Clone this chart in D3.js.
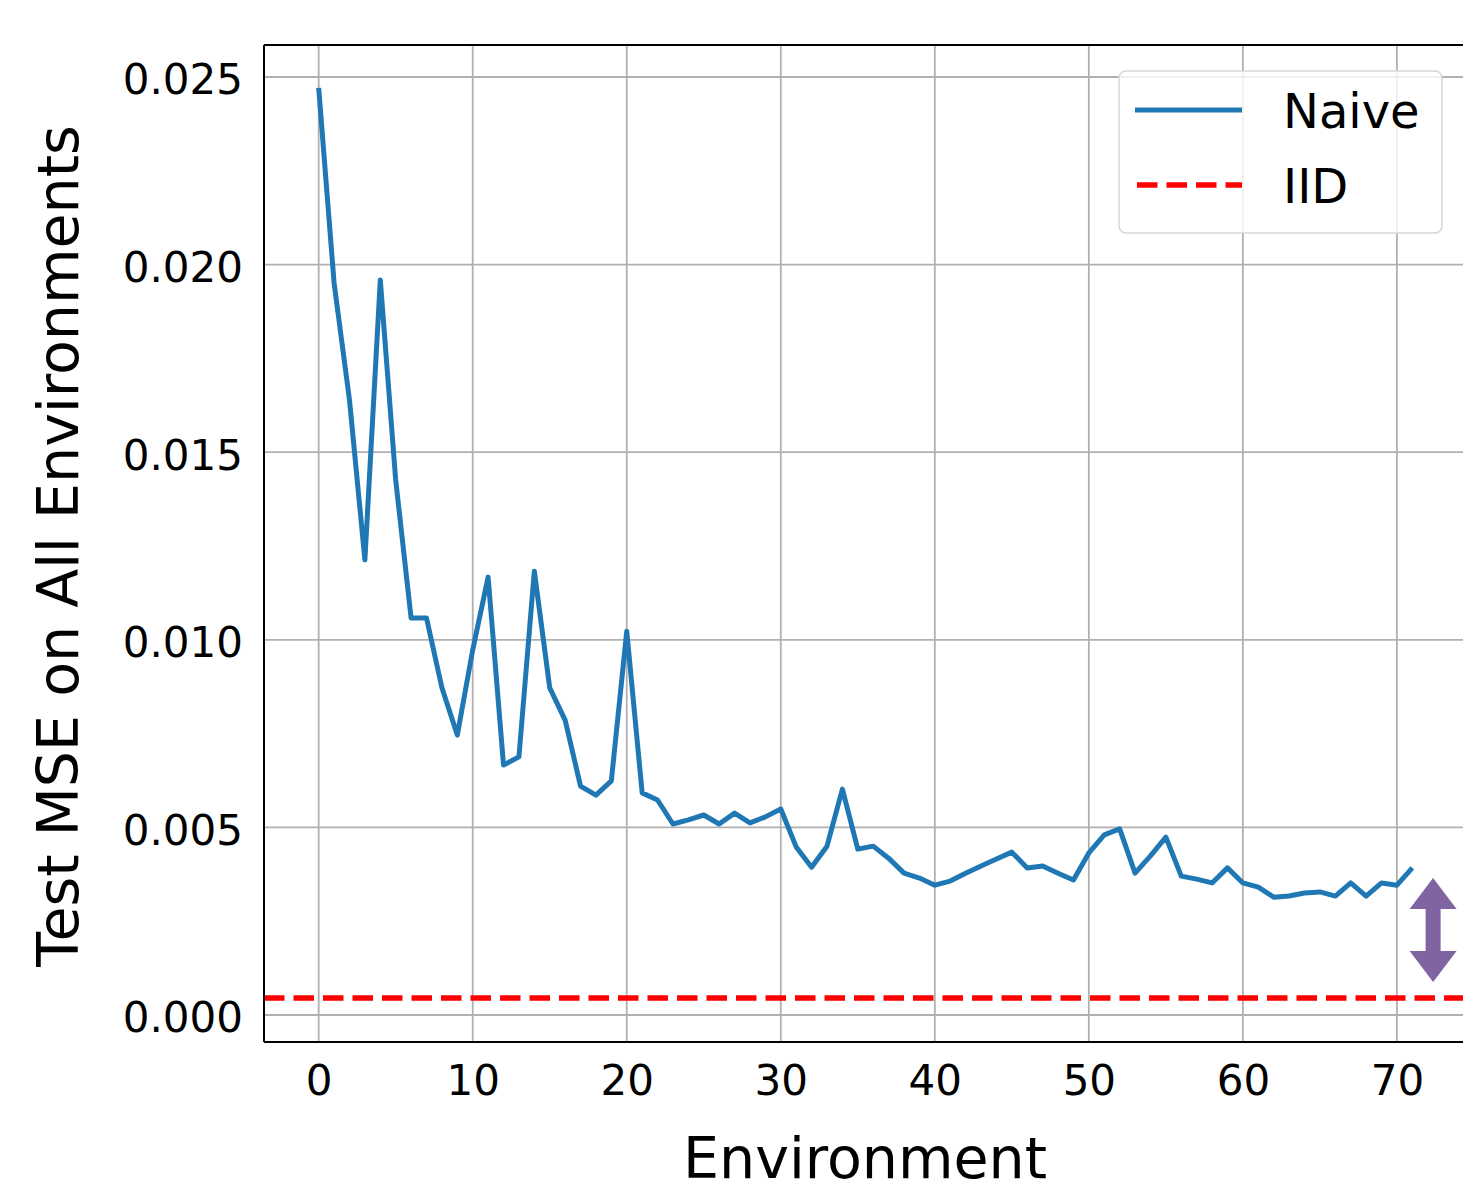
<!DOCTYPE html>
<html>
  <head>
    <meta charset="utf-8">
    <script src="https://d3js.org/d3.v7.min.js"></script>
    <title>Test MSE on All Environments</title>
    <style>
      body {
        margin: 0px;
        background: #fff;
      }
      text {
        font-family: 'DejaVu Sans', sans-serif;
        fill: #000;
      }
      .tick text {
        font-size: 42px;
      }
      .axis-label {
        font-size: 57px;
      }
      .legend text {
        font-size: 48px;
      }
    </style>
  </head>
  <body>
    <svg width="1463" height="1188"></svg>
    <script>

      const environments = d3.range(72);
      const naiveMSE = [
        0.02471, 0.01951, 0.01639, 0.01213, 0.01959, 0.01426, 0.01058, 0.01058,
        0.00872, 0.00746, 0.00973, 0.01167, 0.00666, 0.00688, 0.01183, 0.00872,
        0.00786, 0.00610, 0.00586, 0.00624, 0.01023, 0.00592, 0.00573, 0.00509,
        0.00520, 0.00533, 0.00509, 0.00538, 0.00512, 0.00528, 0.00549, 0.00448,
        0.00394, 0.00450, 0.00602, 0.00442, 0.00450, 0.00418, 0.00378, 0.00365,
        0.00346, 0.00357, 0.00378, 0.00397, 0.00416, 0.00434, 0.00392, 0.00397,
        0.00378, 0.00360, 0.00432, 0.00480, 0.00496, 0.00378, 0.00424, 0.00474,
        0.00370, 0.00362, 0.00352, 0.00392, 0.00352, 0.00341, 0.00314, 0.00317,
        0.00325, 0.00328, 0.00317, 0.00352, 0.00317, 0.00352, 0.00346, 0.00392
      ];
      const iidMSE = 0.00045;
      const xTicks = [0, 10, 20, 30, 40, 50, 60, 70];
      const yTicks = [0, 0.005, 0.01, 0.015, 0.02, 0.025];
      const seriesNames = ['Naive', 'IID'];
      // gap arrow annotation (data coords)
      const gapArrow = { x: 72.35, top: 0.00365, bottom: 0.00088 };

      const margin = { left: 264, top: 45, right: -4, bottom: 146 };
      const svg = d3.select('svg');
      const width = +svg.attr('width');
      const height = +svg.attr('height');
      const innerWidth = width - margin.left - margin.right;
      const innerHeight = height - margin.top - margin.bottom;

      const xScale = d3.scaleLinear()
        .domain([-3.55, 74.55])
        .range([0, innerWidth]);
      const yScale = d3.scaleLinear()
        .domain([-0.00072, 0.025853])
        .range([innerHeight, 0]);

      const g = svg.append('g')
          .attr('transform', `translate(${margin.left},${margin.top})`);

      // grid
      g.append('g').selectAll('line').data(xTicks)
        .enter().append('line')
          .attr('x1', d => xScale(d)).attr('x2', d => xScale(d))
          .attr('y1', 0).attr('y2', innerHeight)
          .attr('stroke', '#b0b0b0').attr('stroke-width', 1.8);
      g.append('g').selectAll('line').data(yTicks)
        .enter().append('line')
          .attr('x1', 0).attr('x2', innerWidth)
          .attr('y1', d => yScale(d)).attr('y2', d => yScale(d))
          .attr('stroke', '#b0b0b0').attr('stroke-width', 1.8);

      // axes
      const xAxisG = g.append('g')
          .attr('transform', `translate(0,${innerHeight})`)
          .call(d3.axisBottom(xScale).tickValues(xTicks).tickSize(0).tickPadding(23)
            .tickFormat(d3.format('d')));
      const yAxisG = g.append('g')
          .call(d3.axisLeft(yScale).tickValues(yTicks).tickSize(0).tickPadding(21)
            .tickFormat(d3.format('.3f')));
      [xAxisG, yAxisG].forEach(a => {
        a.attr('font-size', 42).attr('font-family', "'DejaVu Sans', sans-serif");
        a.select('.domain').remove();
      });
      xAxisG.selectAll('.tick text').attr('dy', '0.71em');
      yAxisG.selectAll('.tick text').attr('dy', '0.4em');

      // series
      const line = d3.line()
        .x((d, i) => xScale(environments[i]))
        .y(d => yScale(d));

      g.append('line')
          .attr('x1', 0).attr('x2', innerWidth)
          .attr('y1', yScale(iidMSE)).attr('y2', yScale(iidMSE))
          .attr('stroke', '#ff0000').attr('stroke-width', 5.5)
          .attr('stroke-dasharray', '20.5 9');

      g.append('path')
          .datum(naiveMSE)
          .attr('d', line)
          .attr('fill', 'none')
          .attr('stroke', '#1f77b4')
          .attr('stroke-width', 5)
          .attr('stroke-linejoin', 'round');

      // double arrow
      const ax = xScale(gapArrow.x);
      const at = yScale(gapArrow.top);
      const ab = yScale(gapArrow.bottom);
      const hw = 23.5, hl = 31, sw = 7.5;
      g.append('path')
          .attr('d', `M${ax},${at} L${ax + hw},${at + hl} L${ax + sw},${at + hl}
            L${ax + sw},${ab - hl} L${ax + hw},${ab - hl} L${ax},${ab}
            L${ax - hw},${ab - hl} L${ax - sw},${ab - hl} L${ax - sw},${at + hl}
            L${ax - hw},${at + hl} Z`)
          .attr('fill', '#8064a2');

      // spines
      g.append('line').attr('x1', 0).attr('x2', 0).attr('y1', 0).attr('y2', innerHeight)
          .attr('stroke', '#000').attr('stroke-width', 2);
      g.append('line').attr('x1', 0).attr('x2', innerWidth).attr('y1', innerHeight).attr('y2', innerHeight)
          .attr('stroke', '#000').attr('stroke-width', 2);
      g.append('line').attr('x1', 0).attr('x2', innerWidth).attr('y1', 0).attr('y2', 0)
          .attr('stroke', '#000').attr('stroke-width', 2);

      // labels
      svg.append('text')
          .attr('class', 'axis-label')
          .attr('x', 865).attr('y', 1178)
          .attr('text-anchor', 'middle')
          .text('Environment');
      svg.append('text')
          .attr('class', 'axis-label')
          .attr('transform', 'translate(78,546) rotate(-90)')
          .attr('text-anchor', 'middle')
          .text('Test MSE on All Environments');

      // legend
      const legend = svg.append('g').attr('class', 'legend');
      legend.append('rect')
          .attr('x', 1119).attr('y', 71).attr('width', 323).attr('height', 162)
          .attr('rx', 7)
          .attr('fill', '#fff').attr('fill-opacity', 0.8)
          .attr('stroke', '#d6d6d6').attr('stroke-width', 1.5);
      legend.append('line')
          .attr('x1', 1135).attr('x2', 1242).attr('y1', 110).attr('y2', 110)
          .attr('stroke', '#1f77b4').attr('stroke-width', 5);
      legend.append('line')
          .attr('x1', 1137).attr('x2', 1242).attr('y1', 185).attr('y2', 185)
          .attr('stroke', '#ff0000').attr('stroke-width', 5.5)
          .attr('stroke-dasharray', '20.5 9');
      legend.selectAll('text.name').data(seriesNames)
        .enter().append('text')
          .attr('class', 'name')
          .attr('x', 1283)
          .attr('y', (d, i) => 128 + i * 75)
          .text(d => d);
    </script>
  </body>
</html>
